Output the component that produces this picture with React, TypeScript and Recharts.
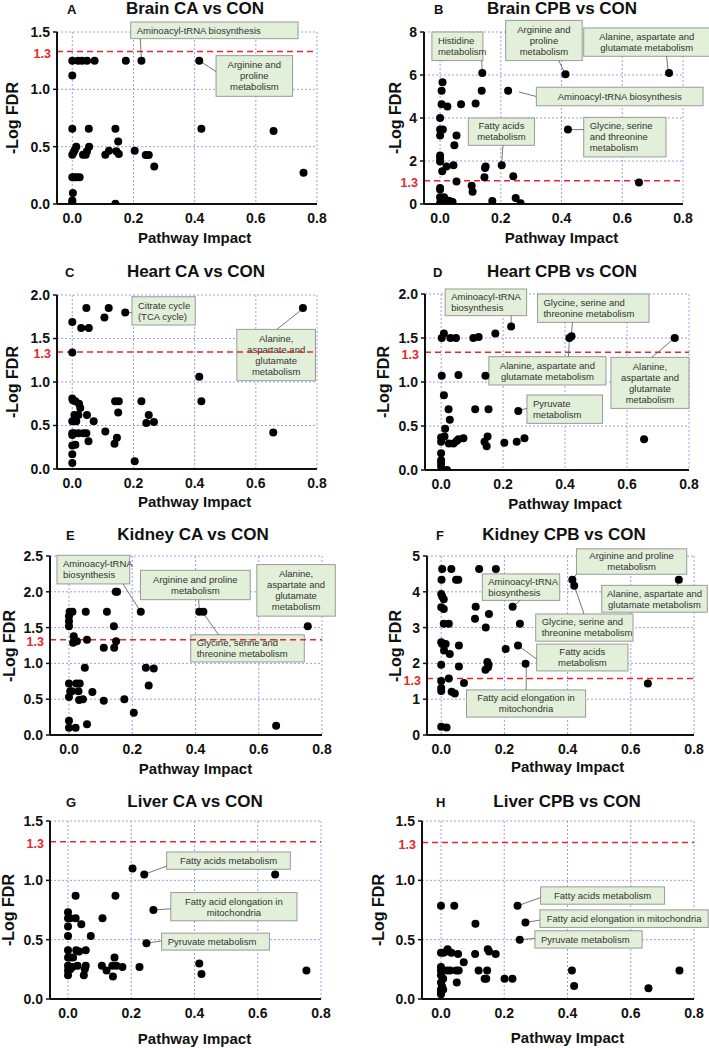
import React from 'react';
import { ScatterChart, Scatter, XAxis, YAxis, CartesianGrid, ReferenceLine, ReferenceArea } from 'recharts';

type Pt = [number, number];
type Note = { x1: number; x2: number; y1: number; y2: number; lines: string[]; align: 'start' | 'middle'; from: Pt | null; to: Pt | null };

const xTicks = [0, 0.2, 0.4, 0.6, 0.8];
const thresholdLabel = '1.3';
// drawn level of the red dashed threshold line in each panel (as it appears in the figure)
const thresholdLevels = [1.33, 1.085, 1.345, 1.337, 1.33, 1.58, 1.326, 1.318];
const xTitle = 'Pathway Impact';
const yTitle = '-Log FDR';

const brainCA: Pt[] = [
  [0, 1.25], [0.019, 1.25], [0.032, 1.25], [0.048, 1.25], [0.073, 1.25], [0.175, 1.25], [0.226, 1.25], [0.415, 1.25],
  [0, 1.12], [0, 0.657], [0.054, 0.657], [0.141, 0.657], [0.422, 0.657], [0.658, 0.637],
  [0, 0.43], [0.004, 0.45], [0.008, 0.47], [0.013, 0.5], [0.035, 0.43], [0.044, 0.43], [0.048, 0.46], [0.055, 0.5],
  [0.108, 0.43], [0.12, 0.465], [0.15, 0.546], [0.144, 0.46], [0.152, 0.436], [0.204, 0.465], [0.24, 0.427],
  [0.25, 0.427], [0.268, 0.326], [0, 0.233], [0.008, 0.233], [0.015, 0.233], [0.024, 0.233],
  [0.002, 0.096], [0, 0.03], [0, 0.017], [0.141, 0.003], [0.756, 0.273],
];
const brainCPB: Pt[] = [
  [0.139, 6.09], [0.413, 6.03], [0.754, 6.09], [0.008, 5.66], [0.005, 5.27], [0.137, 5.27], [0.224, 5.27],
  [0.005, 4.64], [0.024, 4.53], [0.069, 4.64], [0.117, 4.67], [0, 4.0], [0, 3.46], [0.009, 3.46], [0, 3.19],
  [0.054, 3.19], [0.047, 2.73], [0.421, 3.47], [0, 2.26], [0, 2.14], [0, 1.98], [0.007, 1.52], [0.021, 1.75],
  [0.044, 1.8], [0.054, 1.05], [0.15, 1.75], [0.148, 1.67], [0.146, 1.24], [0.203, 1.8], [0.241, 1.29],
  [0.104, 0.85], [0.107, 0.57], [0.655, 1.0], [0, 0.74], [0, 0.67], [0, 0.31], [0.013, 0.31], [0.028, 0.155],
  [0.035, 0.12], [0.041, 0.09], [0, 0.05], [0.019, 0.05], [0.172, 0.14], [0.249, 0.28], [0.265, 0.03],
];
const heartCA: Pt[] = [
  [0.046, 1.85], [0.119, 1.85], [0.105, 1.74], [0.173, 1.8], [0.754, 1.85], [0, 1.69], [0.029, 1.62], [0.054, 1.62],
  [0, 1.34], [0.415, 1.06], [0.422, 0.78], [0, 0.81], [0.002, 0.79], [0.01, 0.78], [0.022, 0.75], [0.026, 0.7],
  [0.007, 0.62], [0.02, 0.62], [0.048, 0.62], [0.07, 0.55], [0, 0.55], [0.013, 0.55], [0.14, 0.78], [0.152, 0.78],
  [0.15, 0.65], [0.226, 0.78], [0.25, 0.62], [0.242, 0.53], [0.267, 0.54], [0, 0.41], [0.007, 0.41], [0.021, 0.41],
  [0.037, 0.41], [0.046, 0.41], [0, 0.39], [0.108, 0.43], [0.146, 0.36], [0.138, 0.29], [0.053, 0.32], [0, 0.27],
  [0.01, 0.28], [0, 0.17], [0, 0.07], [0.204, 0.09], [0.657, 0.42],
];
const heartCPB: Pt[] = [
  [0.226, 1.63], [0.002, 1.5], [0.009, 1.55], [0.03, 1.5], [0.048, 1.5], [0.104, 1.5], [0.121, 1.51], [0.175, 1.55],
  [0.414, 1.5], [0.421, 1.52], [0.754, 1.5], [0.002, 1.07], [0.056, 1.08], [0.143, 1.07], [0.009, 0.85],
  [0.024, 0.69], [0.11, 0.69], [0.153, 0.69], [0.249, 0.67], [0.028, 0.57], [0.013, 0.47], [0, 0.37], [0.011, 0.38],
  [0, 0.32], [0.025, 0.3], [0.04, 0.3], [0.05, 0.33], [0.056, 0.35], [0.072, 0.36], [0.14, 0.32], [0.15, 0.38],
  [0.147, 0.27], [0.204, 0.31], [0.244, 0.32], [0.269, 0.36], [0.655, 0.35], [0, 0.19], [0, 0.11], [0, 0.08],
  [0, 0.04], [0.005, 0], [0.019, 0],
];
const kidneyCA: Pt[] = [
  [0.152, 2.0], [0.148, 2.0], [0.227, 1.72], [0.412, 1.72], [0.425, 1.72], [0.755, 1.52], [0.002, 1.72], [0.011, 1.72],
  [0, 1.66], [0.053, 1.72], [0.12, 1.72], [0, 1.59], [0, 1.52], [0.142, 1.52], [0.015, 1.38], [0.013, 1.29],
  [0.025, 1.31], [0.057, 1.33], [0.149, 1.31], [0.11, 1.22], [0.143, 1.22], [0.05, 0.94], [0.243, 0.94],
  [0.268, 0.93], [0.252, 0.69], [0, 0.72], [0.023, 0.72], [0.034, 0.72], [0.004, 0.61], [0.009, 0.61], [0.03, 0.61],
  [0.074, 0.6], [0, 0.53], [0.032, 0.49], [0.044, 0.5], [0.11, 0.48], [0.175, 0.5], [0.205, 0.31], [0, 0.2],
  [0.057, 0.15], [0, 0.1], [0.021, 0.1], [0.655, 0.13],
];
const kidneyCPB: Pt[] = [
  [0.003, 4.64], [0.032, 4.64], [0.12, 4.64], [0.173, 4.64], [0.001, 4.34], [0.047, 4.34], [0.054, 4.34],
  [0.415, 4.34], [0.421, 4.17], [0.752, 4.34], [0, 3.94], [0.003, 3.87], [0.008, 3.79], [0, 3.57], [0.008, 3.52],
  [0.109, 3.58], [0.226, 3.58], [0.151, 3.38], [0.107, 3.25], [0.008, 3.11], [0.024, 3.11], [0.249, 3.11],
  [0.141, 3.0], [0, 2.59], [0.003, 2.54], [0.014, 2.54], [0.056, 2.5], [0.243, 2.5], [0.204, 2.4], [0.009, 2.36],
  [0.027, 2.26], [0, 1.96], [0.146, 2.04], [0.15, 1.96], [0.267, 1.99], [0.056, 1.91], [0.14, 1.82], [0.148, 1.89],
  [0.024, 1.58], [0, 1.51], [0.072, 1.45], [0, 1.31], [0, 1.23], [0.033, 1.21], [0.043, 1.16], [0.654, 1.44],
  [0, 0.23], [0.017, 0.21],
];
const liverCA: Pt[] = [
  [0.204, 1.1], [0.241, 1.05], [0.655, 1.05], [0.024, 0.87], [0.15, 0.87], [0.27, 0.75], [0, 0.73], [0, 0.68],
  [0.007, 0.68], [0.024, 0.68], [0.109, 0.68], [0.042, 0.63], [0, 0.61], [0, 0.53], [0.072, 0.53], [0.248, 0.47],
  [0, 0.41], [0.026, 0.41], [0.035, 0.4], [0.056, 0.41], [0, 0.35], [0.007, 0.35], [0.016, 0.35], [0.147, 0.35],
  [0, 0.28], [0.014, 0.27], [0.03, 0.28], [0.056, 0.28], [0.107, 0.28], [0.122, 0.24], [0.14, 0.28], [0.153, 0.28],
  [0.172, 0.27], [0.226, 0.27], [0, 0.24], [0.007, 0.25], [0, 0.2], [0.053, 0.25], [0.05, 0.2], [0.142, 0.19],
  [0.415, 0.3], [0.422, 0.21], [0.754, 0.24],
];
const liverCPB: Pt[] = [
  [0, 0.785], [0.042, 0.785], [0.242, 0.785], [0.267, 0.645], [0.109, 0.634], [0.249, 0.5], [0, 0.39], [0.008, 0.39],
  [0.018, 0.4], [0.033, 0.39], [0.021, 0.42], [0.054, 0.38], [0.108, 0.38], [0.148, 0.42], [0.152, 0.4],
  [0.173, 0.38], [0.072, 0.31], [0, 0.27], [0, 0.24], [0.019, 0.24], [0.029, 0.24], [0.048, 0.24], [0.056, 0.24],
  [0.119, 0.24], [0.146, 0.24], [0, 0.2], [0.007, 0.17], [0.138, 0.17], [0.143, 0.17], [0.201, 0.17], [0.226, 0.17],
  [0.05, 0.14], [0, 0.14], [0.003, 0.11], [0, 0.08], [0.007, 0.08], [0, 0.06], [0, 0.04], [0.414, 0.24],
  [0.421, 0.11], [0.656, 0.09], [0.754, 0.24],
];

const brainCANotes: Note[] = [
  { x1: 0.191, x2: 0.738, y1: 1.442, y2: 1.587, lines: ['Aminoacyl-tRNA biosynthesis'], align: 'start', from: [0.226, 1.27], to: [0.222, 1.442] },
  { x1: 0.47, x2: 0.72, y1: 0.939, y2: 1.294, lines: ['Arginine and', 'proline', 'metabolism'], align: 'middle', from: [0.415, 1.25], to: [0.47, 1.155] },
];
const brainCPBNotes: Note[] = [
  { x1: -0.027, x2: 0.141, y1: 6.67, y2: 8.0, lines: ['Histidine', 'metabolism'], align: 'start', from: [0.139, 6.09], to: [0.137, 6.67] },
  { x1: 0.216, x2: 0.468, y1: 6.67, y2: 8.54, lines: ['Arginine and', 'proline', 'metabolism'], align: 'middle', from: [0.41, 6.1], to: [0.391, 6.67] },
  { x1: 0.473, x2: 0.888, y1: 6.87, y2: 8.19, lines: ['Alanine, aspartate and', 'glutamate metabolism'], align: 'middle', from: [0.751, 6.2], to: [0.746, 6.87] },
  { x1: 0.317, x2: 0.866, y1: 4.57, y2: 5.43, lines: ['Aminoacyl-tRNA biosynthesis'], align: 'middle', from: [0.26, 5.21], to: [0.317, 5.0] },
  { x1: 0.093, x2: 0.311, y1: 2.73, y2: 4.0, lines: ['Fatty acids', 'metabolism'], align: 'middle', from: [0.203, 1.9], to: [0.207, 2.73] },
  { x1: 0.473, x2: 0.744, y1: 2.19, y2: 4.03, lines: ['Glycine, serine', 'and threonine', 'metabolism'], align: 'start', from: [0.43, 3.46], to: [0.473, 3.46] },
];
const heartCANotes: Note[] = [
  { x1: 0.195, x2: 0.402, y1: 1.655, y2: 1.98, lines: ['Citrate cycle', '(TCA cycle)'], align: 'start', from: [0.178, 1.8], to: [0.195, 1.8] },
  { x1: 0.538, x2: 0.795, y1: 1.015, y2: 1.605, lines: ['Alanine,', 'aspartate and', 'glutamate', 'metabolism'], align: 'middle', from: [0.751, 1.835], to: [0.669, 1.605] },
];
const heartCPBNotes: Note[] = [
  { x1: 0.013, x2: 0.276, y1: 1.754, y2: 2.057, lines: ['Aminoacyl-tRNA', 'biosynthesis'], align: 'start', from: [0.226, 1.63], to: [0.226, 1.754] },
  { x1: 0.311, x2: 0.671, y1: 1.678, y2: 2.0, lines: ['Glycine, serine and', 'threonine metabolism'], align: 'start', from: [0.42, 1.52], to: [0.424, 1.678] },
  { x1: 0.154, x2: 0.532, y1: 0.966, y2: 1.288, lines: ['Alanine, aspartate and', 'glutamate metabolism'], align: 'middle', from: [0.414, 1.5], to: [0.411, 1.288] },
  { x1: 0.548, x2: 0.8, y1: 0.7, y2: 1.28, lines: ['Alanine,', 'aspartate and', 'glutamate', 'metabolism'], align: 'middle', from: [0.75, 1.49], to: [0.68, 1.28] },
  { x1: 0.277, x2: 0.521, y1: 0.53, y2: 0.852, lines: ['Pyruvate', 'metabolism'], align: 'start', from: [0.255, 0.68], to: [0.277, 0.7] },
];
const kidneyCANotes: Note[] = [
  { x1: -0.038, x2: 0.192, y1: 2.11, y2: 2.51, lines: ['Aminoacyl-tRNA', 'biosynthesis'], align: 'start', from: [0.224, 1.74], to: [0.171, 2.11] },
  { x1: 0.226, x2: 0.573, y1: 1.89, y2: 2.3, lines: ['Arginine and proline', 'metabolism'], align: 'middle', from: [0.412, 1.74], to: [0.41, 1.89] },
  { x1: 0.594, x2: 0.842, y1: 1.66, y2: 2.38, lines: ['Alanine,', 'aspartate and', 'glutamate', 'metabolism'], align: 'middle', from: null, to: null },
  { x1: 0.385, x2: 0.744, y1: 1.02, y2: 1.4, lines: ['Glycine, serine and', 'threonine metabolism'], align: 'start', from: [0.425, 1.7], to: [0.473, 1.4] },
];
const kidneyCPBNotes: Note[] = [
  { x1: 0.428, x2: 0.777, y1: 4.49, y2: 5.2, lines: ['Arginine and proline', 'metabolism'], align: 'middle', from: [0.418, 4.36], to: [0.428, 4.5] },
  { x1: 0.13, x2: 0.375, y1: 3.76, y2: 4.5, lines: ['Aminoacyl-tRNA', 'biosynthesis'], align: 'start', from: [0.228, 3.6], to: [0.25, 3.76] },
  { x1: 0.508, x2: 0.842, y1: 3.43, y2: 4.18, lines: ['Alanine, aspartate and', 'glutamate metabolism'], align: 'middle', from: [0.752, 4.34], to: [0.747, 4.18] },
  { x1: 0.299, x2: 0.607, y1: 2.62, y2: 3.38, lines: ['Glycine, serine and', 'threonine metabolism'], align: 'start', from: [0.421, 4.17], to: [0.452, 3.38] },
  { x1: 0.302, x2: 0.591, y1: 1.79, y2: 2.54, lines: ['Fatty acids', 'metabolism'], align: 'middle', from: [0.243, 2.5], to: [0.302, 2.12] },
  { x1: 0.08, x2: 0.457, y1: 0.5, y2: 1.26, lines: ['Fatty acid elongation in', 'mitochondria'], align: 'middle', from: [0.269, 1.99], to: [0.269, 1.26] },
];
const liverCANotes: Note[] = [
  { x1: 0.312, x2: 0.703, y1: 1.093, y2: 1.239, lines: ['Fatty acids metabolism'], align: 'middle', from: [0.241, 1.05], to: [0.312, 1.12] },
  { x1: 0.325, x2: 0.724, y1: 0.659, y2: 0.897, lines: ['Fatty acid elongation in', 'mitochondria'], align: 'middle', from: [0.27, 0.75], to: [0.325, 0.76] },
  { x1: 0.296, x2: 0.637, y1: 0.412, y2: 0.555, lines: ['Pyruvate metabolism'], align: 'start', from: [0.248, 0.47], to: [0.296, 0.49] },
];
const liverCPBNotes: Note[] = [
  { x1: 0.315, x2: 0.707, y1: 0.799, y2: 0.945, lines: ['Fatty acids metabolism'], align: 'middle', from: [0.242, 0.785], to: [0.315, 0.855] },
  { x1: 0.313, x2: 0.845, y1: 0.603, y2: 0.751, lines: ['Fatty acid elongation in mitochondria'], align: 'middle', from: [0.267, 0.645], to: [0.313, 0.665] },
  { x1: 0.297, x2: 0.636, y1: 0.429, y2: 0.575, lines: ['Pyruvate metabolism'], align: 'start', from: [0.249, 0.5], to: [0.297, 0.51] },
];

type Cfg = {
  letter: string; title: string; data: Pt[]; notes: Note[]; yTicks: number[]; dec: number;
  left: number; top: number; width: number; axisX: number; plotRight: number; plotTop: number; plotBottom: number;
  xMin: number; yLabelX: number; titleCenter: number; titleBaseline: number; letterX: number; xLabelOffset: number;
};

const panels: Cfg[] = [
  { letter: 'A', title: 'Brain CA vs CON', data: brainCA, notes: brainCANotes, yTicks: [0, 0.5, 1, 1.5], dec: 1,
    left: 0, top: 0, width: 354, axisX: 57, plotRight: 317, plotTop: 32, plotBottom: 204, xMin: -0.05, yLabelX: 13,
    titleCenter: 195, titleBaseline: 14, letterX: 67, xLabelOffset: 34 },
  { letter: 'B', title: 'Brain CPB vs CON', data: brainCPB, notes: brainCPBNotes, yTicks: [0, 2, 4, 6, 8], dec: 0,
    left: 354, top: 0, width: 355, axisX: 70, plotRight: 329, plotTop: 32, plotBottom: 204, xMin: -0.053, yLabelX: 42,
    titleCenter: 208, titleBaseline: 14, letterX: 80, xLabelOffset: 34 },
  { letter: 'C', title: 'Heart CA vs CON', data: heartCA, notes: heartCANotes, yTicks: [0, 0.5, 1, 1.5, 2], dec: 1,
    left: 0, top: 262, width: 354, axisX: 57, plotRight: 317, plotTop: 33, plotBottom: 207, xMin: -0.05, yLabelX: 13,
    titleCenter: 196, titleBaseline: 15, letterX: 65, xLabelOffset: 33 },
  { letter: 'D', title: 'Heart CPB vs CON', data: heartCPB, notes: heartCPBNotes, yTicks: [0, 0.5, 1, 1.5, 2], dec: 1,
    left: 354, top: 262, width: 355, axisX: 71, plotRight: 335, plotTop: 32, plotBottom: 208, xMin: -0.052, yLabelX: 30,
    titleCenter: 208, titleBaseline: 15, letterX: 79, xLabelOffset: 34 },
  { letter: 'E', title: 'Kidney CA vs CON', data: kidneyCA, notes: kidneyCANotes, yTicks: [0, 0.5, 1, 1.5, 2, 2.5], dec: 1,
    left: 0, top: 524, width: 354, axisX: 50, plotRight: 322, plotTop: 32, plotBottom: 211, xMin: -0.06, yLabelX: 10,
    titleCenter: 193, titleBaseline: 16, letterX: 66, xLabelOffset: 34 },
  { letter: 'F', title: 'Kidney CPB vs CON', data: kidneyCPB, notes: kidneyCPBNotes, yTicks: [0, 1, 2, 3, 4, 5], dec: 0,
    left: 354, top: 524, width: 355, axisX: 73, plotRight: 340, plotTop: 32, plotBottom: 211, xMin: -0.045, yLabelX: 42,
    titleCenter: 210, titleBaseline: 16, letterX: 82, xLabelOffset: 32 },
  { letter: 'G', title: 'Liver CA vs CON', data: liverCA, notes: liverCANotes, yTicks: [0, 0.5, 1, 1.5], dec: 1,
    left: 0, top: 786, width: 354, axisX: 50, plotRight: 321, plotTop: 35, plotBottom: 213, xMin: -0.057, yLabelX: 9,
    titleCenter: 195, titleBaseline: 21, letterX: 66, xLabelOffset: 40 },
  { letter: 'H', title: 'Liver CPB vs CON', data: liverCPB, notes: liverCPBNotes, yTicks: [0, 0.5, 1, 1.5], dec: 1,
    left: 354, top: 786, width: 355, axisX: 68, plotRight: 340, plotTop: 35, plotBottom: 213, xMin: -0.06, yLabelX: 25,
    titleCenter: 213, titleBaseline: 21, letterX: 82, xLabelOffset: 39 },
];

const FONT = '"Liberation Sans", Arial, sans-serif';
const H = 262;
const XAXIS_H = 44;

function NoteBox(props: any) {
  const { x, y, width, height, lines, align } = props;
  const lh = 11;
  const startY = y + height / 2 - ((lines.length - 1) * lh) / 2;
  const tx = align === 'start' ? x + 6 : x + width / 2;
  return (
    <g>
      <rect x={x} y={y} width={width} height={height} fill="#e2efd9" stroke="#9a9a9a" strokeWidth={1} />
      <text fontFamily={FONT} fontSize={9.5} fill="#333" textAnchor={align}>
        {lines.map((l: string, i: number) => (
          <tspan key={i} x={tx} y={startY + i * lh} dy="0.35em">{l}</tspan>
        ))}
      </text>
    </g>
  );
}

function ThresholdLabel(props: any) {
  const vb = props.viewBox || {};
  return (
    <text x={vb.x - 6} y={vb.y + 2} dy="0.35em" textAnchor="end" fill="#e8262b" fontSize={12.5}
      fontWeight="bold" fontFamily={FONT}>{thresholdLabel}</text>
  );
}

function Panel({ cfg, level }: { cfg: Cfg; level: number }) {
  const yMax = cfg.yTicks[cfg.yTicks.length - 1];
  const margin = { top: cfg.plotTop, right: cfg.width - cfg.plotRight, left: 0, bottom: H - cfg.plotBottom - XAXIS_H };
  const data = cfg.data.map(([x, y]) => ({ x, y }));
  const plotW = cfg.plotRight - cfg.axisX;
  const x0 = cfg.axisX + ((0 - cfg.xMin) / (0.8 - cfg.xMin)) * plotW;
  const xLabelCenter = (x0 + cfg.plotRight) / 2;
  const yLabelCenter = (cfg.plotTop + cfg.plotBottom) / 2;
  const tickStyle = { fill: '#111', fontSize: 14, fontWeight: 'bold', fontFamily: FONT };
  return (
    <div style={{ position: 'absolute', left: cfg.left, top: cfg.top, width: cfg.width, height: H }}>
      <ScatterChart width={cfg.width} height={H} margin={margin}>
        <CartesianGrid stroke="#9c9cf0" strokeDasharray="2 2" strokeWidth={1} />
        <XAxis type="number" dataKey="x" domain={[cfg.xMin, 0.8]} ticks={xTicks} allowDataOverflow height={XAXIS_H}
          tickFormatter={(v: number) => v.toFixed(1)} tick={tickStyle} axisLine={{ stroke: '#111', strokeWidth: 2 }}
          tickLine={{ stroke: 'transparent' }} tickSize={5} tickMargin={4} interval={0} />
        <YAxis type="number" dataKey="y" domain={[0, yMax]} ticks={cfg.yTicks} allowDataOverflow width={cfg.axisX}
          tickFormatter={(v: number) => v.toFixed(cfg.dec)} tick={tickStyle} axisLine={{ stroke: '#111', strokeWidth: 2 }}
          tickLine={{ stroke: '#111', strokeWidth: 1.5 }} tickSize={4} tickMargin={3} interval={0} />
        <ReferenceLine y={level} stroke="#e8262b" strokeWidth={1.5} strokeDasharray="6 4" ifOverflow="visible"
          label={<ThresholdLabel />} />
        {cfg.notes.filter((n) => n.from && n.to).map((n, i) => (
          <ReferenceLine key={'c' + i} segment={[{ x: n.from![0], y: n.from![1] }, { x: n.to![0], y: n.to![1] }]}
            stroke="#555" strokeWidth={0.8} ifOverflow="visible" />
        ))}
        {cfg.notes.map((n, i) => (
          <ReferenceArea key={'b' + i} x1={n.x1} x2={n.x2} y1={n.y1} y2={n.y2} ifOverflow="visible"
            shape={(p: any) => <NoteBox {...p} lines={n.lines} align={n.align} />} />
        ))}
        <Scatter data={data} isAnimationActive={false}
          shape={(p: any) => <circle cx={p.cx} cy={p.cy} r={4} fill="#000" />} />
      </ScatterChart>
      <div style={{ position: 'absolute', left: cfg.titleCenter - 120, width: 240, top: cfg.titleBaseline - 14.4,
        fontSize: 17, lineHeight: '17px', fontWeight: 'bold', textAlign: 'center', fontFamily: FONT, color: '#111' }}>{cfg.title}</div>
      <div style={{ position: 'absolute', left: cfg.letterX, top: cfg.titleBaseline - 11.2,
        fontSize: 13, lineHeight: '13px', fontWeight: 'bold', fontFamily: FONT, color: '#111' }}>{cfg.letter}</div>
      <div style={{ position: 'absolute', left: xLabelCenter - 100, width: 200, top: cfg.plotBottom + cfg.xLabelOffset - 9,
        fontSize: 15, lineHeight: '18px', fontWeight: 'bold', textAlign: 'center', fontFamily: FONT, color: '#111' }}>{xTitle}</div>
      <div style={{ position: 'absolute', left: cfg.yLabelX - 60, width: 120, top: yLabelCenter - 8, height: 16,
        fontSize: 16, lineHeight: '16px', fontWeight: 'bold', textAlign: 'center', fontFamily: FONT, color: '#111',
        transform: 'rotate(-90deg)' }}>{yTitle}</div>
    </div>
  );
}

export default function App() {
  return (
    <div style={{ position: 'absolute', left: 0, top: 0, width: 709, height: 1048, background: '#fff', overflow: 'hidden' }}>
      {panels.map((p, i) => <Panel key={p.letter} cfg={p} level={thresholdLevels[i]} />)}
    </div>
  );
}
